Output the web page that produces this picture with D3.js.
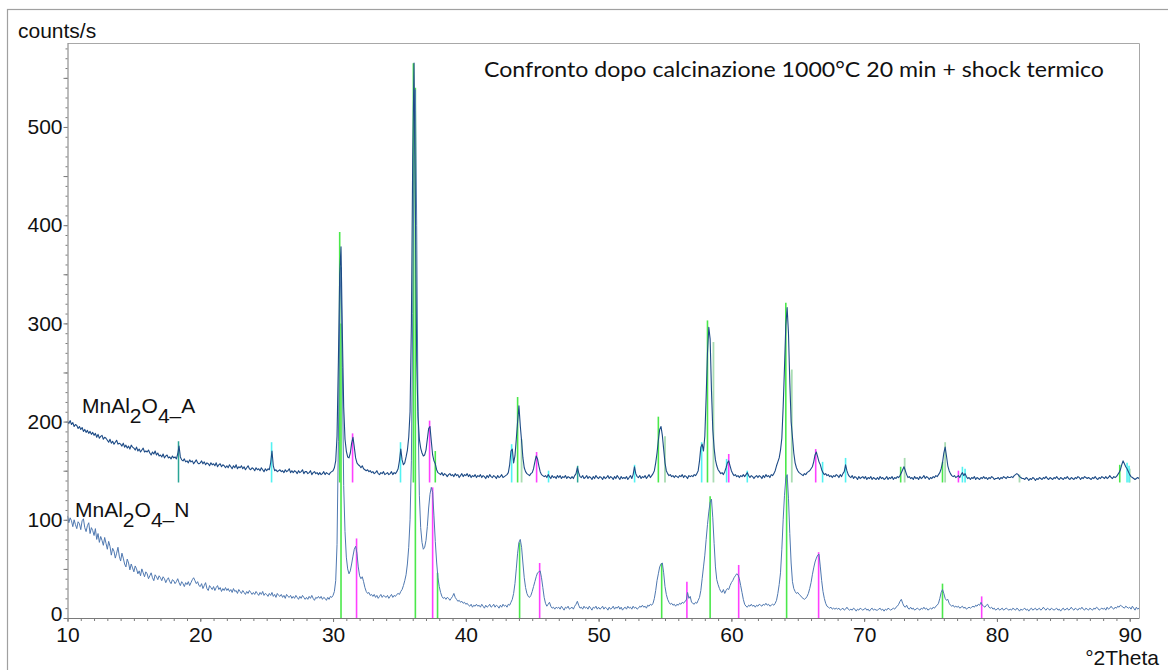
<!DOCTYPE html>
<html>
<head>
<meta charset="utf-8">
<script src="https://cdn.jsdelivr.net/npm/d3@7"></script>
<style>
  html, body { margin: 0; padding: 0; background: #fff; }
  svg { display: block; }
</style>
</head>
<body>
<svg id="chart" width="1168" height="670"></svg>
<script>
// Step scan: 10.0 to 90.9 °2Theta, 0.1° per point, one row per degree
const scanStart = 10.0;
const scanStep = 0.1;

// Pattern MnAl2O4_A (counts/s, includes its own background level)
const countsA = [
  200,198,201,197,199,195,197,196,193,195,
  192,194,190,192,189,191,188,190,187,189,
  186,188,184,187,183,185,186,182,184,183,
  181,179,182,178,180,177,179,181,177,178,
  177,175,178,174,176,173,175,172,176,174,
  173,171,174,170,172,169,171,173,169,170,
  169,171,168,166,169,167,170,166,168,165,
  166,164,167,163,165,166,163,164,162,165,
  163,164,162,167,175,164,161,160,162,159,
  160,158,161,159,160,157,159,161,158,157,
  158,160,157,159,156,158,157,155,158,156,
  157,155,158,154,156,157,154,156,155,153,
  155,153,156,154,152,155,153,156,152,154,
  153,155,152,154,151,153,155,152,151,153,
  152,150,153,151,152,150,153,151,149,152,
  150,152,151,158,170,155,150,151,149,150,
  151,149,150,148,151,149,150,152,148,150,
  148,150,149,147,150,148,149,151,147,149,
  149,147,148,150,146,148,149,147,148,146,
  148,146,147,149,146,148,147,146,148,149,
  150,153,160,185,260,350,378,290,215,182,
  170,164,163,168,178,184,174,163,158,156,
  155,153,155,152,151,150,151,149,150,148,
  149,147,148,150,147,146,148,147,149,146,
  147,148,146,147,149,146,148,147,149,152,
  160,172,161,156,158,164,171,184,210,300,
  470,565,420,262,205,182,173,168,165,166,
  171,182,193,195,180,166,160,157,151,148,
  147,146,148,145,147,146,144,146,147,145,
  146,144,147,145,146,143,145,147,144,146,
  145,147,144,146,143,145,144,146,143,145,
  144,146,143,145,144,142,145,143,146,144,
  143,145,144,142,145,143,144,146,143,144,
  145,146,148,156,170,172,158,165,182,200,
  216,196,180,163,153,149,147,146,145,147,
  148,152,159,165,162,155,149,146,145,144,
  145,143,146,144,142,145,143,144,142,145,
  143,145,142,144,143,145,142,144,143,142,
  144,142,145,147,153,148,144,143,145,142,
  143,145,142,144,143,141,144,142,145,143,
  142,144,143,141,144,142,143,145,142,144,
  143,141,144,142,145,143,141,144,142,143,
  142,144,141,143,145,142,146,154,147,144,
  143,145,142,144,143,145,142,144,146,143,
  145,147,150,158,168,181,192,195,186,172,
  158,150,147,145,146,144,145,143,145,144,
  143,145,144,146,143,145,144,142,145,144,
  145,144,146,145,147,150,160,174,177,170,
  185,225,270,296,284,232,192,173,161,155,
  151,149,147,148,146,149,153,158,160,155,
  150,147,145,146,144,145,143,145,144,146,
  144,146,148,145,143,145,144,142,144,145,
  143,145,144,142,145,143,146,144,145,143,
  146,145,147,150,155,159,163,171,183,215,
  255,298,316,290,240,200,184,168,158,153,
  150,148,147,146,145,147,146,148,149,150,
  152,154,159,166,169,164,159,156,151,148,
  146,147,145,146,144,145,143,145,144,146,
  145,143,146,144,147,149,156,150,146,144,
  143,145,142,144,143,141,144,142,143,144,
  142,144,141,143,142,144,141,143,142,141,
  143,141,144,142,143,141,142,144,141,143,
  142,144,141,143,142,144,143,145,148,151,
  154,150,146,143,144,142,143,141,144,142,
  143,141,144,142,143,145,142,144,143,141,
  143,142,144,143,145,144,146,148,152,158,
  168,174,165,155,150,147,145,144,145,143,
  144,145,143,146,148,145,147,144,142,143,
  141,143,142,144,141,143,142,141,143,142,
  144,142,143,141,143,142,144,143,141,142,
  142,143,141,143,142,144,143,142,144,143,
  143,144,143,145,146,147,146,144,143,142,
  142,141,143,142,140,142,141,143,142,140,
  142,141,143,142,141,143,142,144,142,141,
  143,142,141,143,142,144,142,141,143,142,
  141,143,142,144,142,141,143,142,141,143,
  142,144,143,141,143,142,144,143,142,143,
  142,141,143,142,144,142,141,143,142,144,
  143,142,144,142,143,145,143,142,144,143,
  144,146,148,151,156,160,157,154,152,149,
  146,144,143,142,141,142,143,142,141,142
];

// Pattern MnAl2O4_N (counts/s)
const countsN = [
  104,97,102,99,93,100,95,91,98,96,
  90,99,101,92,88,94,97,86,92,89,
  84,91,80,86,77,83,79,74,82,76,
  70,78,73,64,71,68,61,66,72,63,
  58,66,61,55,52,60,56,49,55,51,
  47,53,50,45,48,43,50,46,42,47,
  45,40,43,46,41,38,44,42,39,43,
  41,38,42,40,36,39,41,37,35,39,
  38,35,37,40,36,33,37,35,32,36,
  34,37,33,36,39,41,38,35,37,33,
  32,35,30,33,36,30,28,33,31,29,
  32,28,31,33,29,31,27,30,28,31,
  28,30,27,29,26,30,27,28,25,29,
  27,25,28,26,24,27,25,28,26,24,
  26,24,27,25,23,26,24,27,23,25,
  24,22,25,23,26,22,24,21,25,23,
  22,24,21,23,20,24,22,21,23,20,
  22,20,23,21,19,22,20,23,21,19,
  21,19,22,20,23,20,18,21,20,22,
  20,22,19,21,20,18,21,19,22,21,
  23,27,38,75,180,310,357,255,135,88,
  62,50,45,48,55,63,70,73,66,52,
  43,40,42,37,31,27,25,26,23,24,
  22,24,21,23,20,22,24,21,23,22,
  21,23,20,22,24,21,23,22,24,25,
  24,27,29,33,38,44,55,72,100,160,
  310,470,538,400,210,125,92,77,70,72,
  79,93,112,126,133,128,104,78,57,41,
  32,26,22,20,21,19,21,20,18,20,
  22,25,21,19,17,18,16,17,15,16,
  14,15,13,12,14,11,13,12,14,12,
  13,11,14,12,10,13,11,12,14,11,
  12,14,11,13,12,10,13,11,14,12,
  13,11,14,13,16,19,25,35,50,66,
  77,80,72,56,41,31,25,22,21,23,
  27,32,37,42,46,47,48,41,31,21,
  15,12,14,16,12,10,11,9,11,10,
  11,9,12,10,8,11,10,12,9,10,
  11,9,12,14,17,13,10,11,9,12,
  10,11,9,12,10,8,11,10,12,9,
  11,9,10,12,9,11,10,8,11,9,
  10,12,9,11,10,12,9,11,8,10,
  11,9,12,10,11,9,12,10,11,9,
  10,12,11,13,11,12,10,13,12,14,
  13,15,20,28,38,45,52,55,56,46,
  32,24,19,16,14,15,13,14,12,14,
  13,15,14,16,15,17,18,26,20,22,
  16,15,14,16,15,18,21,28,40,52,
  64,80,95,108,118,121,102,76,52,39,
  34,30,27,26,29,25,28,30,29,33,
  36,38,41,43,45,44,40,33,26,19,
  14,12,11,13,12,14,12,13,11,13,
  12,14,13,12,14,13,15,13,14,12,
  13,14,13,15,18,25,34,46,70,100,
  125,142,146,122,86,56,37,30,27,25,
  26,24,23,21,20,19,20,22,25,30,
  36,44,51,57,61,64,65,52,38,27,
  20,15,12,11,10,11,9,10,9,10,
  9,10,8,9,10,8,9,11,9,8,
  9,8,10,9,7,9,8,10,9,8,
  9,10,8,9,7,9,10,8,9,8,
  8,9,10,8,9,7,9,8,10,9,
  8,9,10,9,11,12,14,17,19,15,
  12,11,13,10,9,11,9,10,8,9,
  10,9,8,10,9,11,9,10,8,9,
  10,9,11,10,12,13,15,20,26,29,
  25,20,18,19,15,13,12,13,11,12,
  11,12,10,11,12,10,11,9,10,11,
  10,11,12,11,13,12,14,13,16,13,
  12,11,13,14,11,10,11,9,10,8,
  9,10,8,9,10,8,9,10,9,8,
  9,8,10,9,8,10,9,7,9,8,
  9,10,8,9,7,9,10,8,9,10,
  8,9,10,8,9,11,9,8,10,9,
  8,10,9,8,9,10,8,9,7,9,
  10,8,9,10,8,9,11,9,8,10,
  9,8,10,9,11,9,8,10,9,8,
  10,9,8,10,9,11,10,8,9,10,
  9,10,8,11,9,10,12,10,9,11,
  10,12,11,13,12,11,10,12,11,10,
  11,9,12,10,8,11,9,10,12,9
];

// Reference line positions (°2Theta) and stick tops (counts/s)
// Sticks of the A pattern stand on its offset level
const stickBaseA = 138;
const refGreenPosA  = [30.5, 36.05, 37.7, 43.9, 54.5, 58.2, 64.1, 72.75, 75.9, 89.25];
const refGreenTopA  = [393, 565, 170, 225, 205, 303, 321, 154, 159, 156];
const refPalePosA   = [44.2, 55.0, 58.65, 64.55, 73.05, 76.1, 81.7, 90.0];
const refPaleTopA   = [182, 185, 281, 253, 163, 179, 146, 152];
const refMagentaPosA = [31.47, 37.27, 45.33, 59.8, 66.35, 77.1];
const refMagentaTopA = [188, 201, 169, 167, 172, 150];
const refCyanPosA   = [25.37, 35.08, 43.45, 46.23, 52.71, 57.76, 59.64, 61.2, 66.87, 68.6, 77.4, 77.6, 89.8, 89.95];
const refCyanTopA   = [179, 179, 177, 150, 156, 179, 162, 150, 159, 163, 154, 152, 158, 155];
const refTealPosA   = [18.36, 48.42];
const refTealTopA   = [180, 155];

// Sticks of the N pattern stand on zero
const stickBaseN = 0;
const refGreenPosN   = [30.6, 36.2, 37.87, 44.05, 54.75, 58.4, 64.16, 75.9];
const refGreenTopN   = [300, 540, 46, 77, 56, 124, 145, 35];
const refMagentaPosN = [31.77, 37.5, 45.56, 56.65, 60.55, 66.57, 78.85];
const refMagentaTopN = [81, 133, 56, 37, 54, 67, 22];

// Axis ticks
const xLabelTicks = [10, 20, 30, 40, 50, 60, 70, 80, 90];
const yLabelTicks = [0, 100, 200, 300, 400, 500];

const titleText = "Confronto dopo calcinazione 1000°C 20 min + shock termico";

// ---------------------------------------------------------------
const svg = d3.select("#chart");
const font = "'Liberation Sans', Arial, sans-serif";
const plot = { left: 67.5, right: 1139, top: 43, bottom: 618 };

const x = d3.scaleLinear().domain([10, 90.7]).range([plot.left, plot.right]);
const y = d3.scaleLinear().domain([0, 585.5]).range([plot.bottom, plot.top]);

// outer border of the graphic
svg.append("rect")
  .attr("x", 7.5).attr("y", 9.5).attr("width", 1200).attr("height", 700)
  .attr("fill", "none").attr("stroke", "#a0a0a0").attr("stroke-width", 1.2);

// plot frame (top and right)
svg.append("path")
  .attr("d", `M${plot.left},${plot.top + 0.5}H${plot.right + 0.5}V${plot.bottom}`)
  .attr("fill", "none").attr("stroke", "#a8a8a8").attr("stroke-width", 1);

svg.append("defs").append("clipPath").attr("id", "plotClip")
  .append("rect")
  .attr("x", plot.left).attr("y", plot.top)
  .attr("width", plot.right - plot.left).attr("height", plot.bottom - plot.top);

const g = svg.append("g").attr("clip-path", "url(#plotClip)");

// reference sticks
function sticks(pos, top, base, color, width) {
  g.append("g").selectAll("line")
    .data(pos.map((p, i) => ({ p, t: top[i] })))
    .join("line")
    .attr("x1", d => x(d.p)).attr("x2", d => x(d.p))
    .attr("y1", y(base)).attr("y2", d => y(d.t))
    .attr("stroke", color).attr("stroke-width", width);
}
sticks(refPalePosA, refPaleTopA, stickBaseA, "#a9dcb2", 1.8);
sticks(refCyanPosA, refCyanTopA, stickBaseA, "#52f2f2", 1.6);
sticks(refTealPosA, refTealTopA, stickBaseA, "#2aa596", 1.5);
sticks(refGreenPosA, refGreenTopA, stickBaseA, "#4be84b", 1.6);
sticks(refMagentaPosA, refMagentaTopA, stickBaseA, "#ff40ff", 1.6);
sticks(refGreenPosN, refGreenTopN, stickBaseN, "#4be84b", 1.6);
sticks(refMagentaPosN, refMagentaTopN, stickBaseN, "#ff40ff", 1.6);

// scans
const line = d3.line()
  .x((d, i) => x(scanStart + i * scanStep))
  .y(d => y(d));

g.append("path").datum(countsN)
  .attr("d", line).attr("fill", "none")
  .attr("stroke", "#4f78b0").attr("stroke-width", 1).attr("stroke-linejoin", "round");

g.append("path").datum(countsA)
  .attr("d", line).attr("fill", "none")
  .attr("stroke", "#1d4b86").attr("stroke-width", 1.1).attr("stroke-linejoin", "round");

// axes
const axisColor = "#7a7a7a";
function styleAxis(sel) {
  sel.selectAll("path, line").attr("stroke", axisColor);
  sel.selectAll("text").attr("fill", "#111").style("font-family", font).style("font-size", "21px");
}

const xMinor = svg.append("g").attr("transform", `translate(0,${plot.bottom})`)
  .call(d3.axisBottom(x).tickValues(d3.range(10, 91, 1)).tickSize(3).tickFormat(""));
xMinor.select(".domain").remove();
styleAxis(xMinor);

const xMajor = svg.append("g").attr("transform", `translate(0,${plot.bottom})`)
  .call(d3.axisBottom(x).tickValues(xLabelTicks).tickSize(4).tickPadding(5).tickSizeOuter(0).tickFormat(d3.format("d")));
styleAxis(xMajor);

const yMinor = svg.append("g").attr("transform", `translate(${plot.left},0)`)
  .call(d3.axisLeft(y).tickValues(d3.range(0, 581, 10)).tickSize(2).tickFormat(""));
yMinor.select(".domain").remove();
styleAxis(yMinor);

const yMid = svg.append("g").attr("transform", `translate(${plot.left},0)`)
  .call(d3.axisLeft(y).tickValues(d3.range(50, 581, 100)).tickSize(4).tickFormat(""));
yMid.select(".domain").remove();
styleAxis(yMid);

const yMajor = svg.append("g").attr("transform", `translate(${plot.left},0)`)
  .call(d3.axisLeft(y).tickValues(yLabelTicks).tickSize(4).tickPadding(1).tickSizeOuter(0).tickFormat(d3.format("d")));
styleAxis(yMajor);
// the zero label sits a little higher so it clears the "10" below it
yMajor.selectAll(".tick text").filter(d => d === 0).attr("dy", "0.1em");

// axis titles
svg.append("text").attr("x", 18).attr("y", 38)
  .style("font-family", font).style("font-size", "21px").attr("fill", "#111")
  .text("counts/s");
svg.append("text").attr("x", 1159).attr("y", 665).attr("text-anchor", "end")
  .style("font-family", font).style("font-size", "21px").attr("fill", "#111")
  .text("°2Theta");

// chart title
svg.append("text").attr("x", 484).attr("y", 77)
  .style("font-family", "Lato, 'Open Sans', sans-serif").style("font-size", "22px").attr("fill", "#111")
  .attr("textLength", 620).attr("lengthAdjust", "spacingAndGlyphs")
  .text(titleText);

// scan labels with lowered formula indices
function scanLabel(x0, y0, suffix) {
  const t = svg.append("text").attr("x", x0).attr("y", y0)
    .style("font-family", font).style("font-size", "21px").attr("fill", "#111");
  t.append("tspan").text("MnAl");
  t.append("tspan").attr("dy", 10).text("2");
  t.append("tspan").attr("dy", -10).text("O");
  t.append("tspan").attr("dy", 10).text("4\u2013");
  t.append("tspan").attr("dy", -10).text(suffix);
}
scanLabel(82, 413, "A");
scanLabel(75, 517, "N");
</script>
</body>
</html>
